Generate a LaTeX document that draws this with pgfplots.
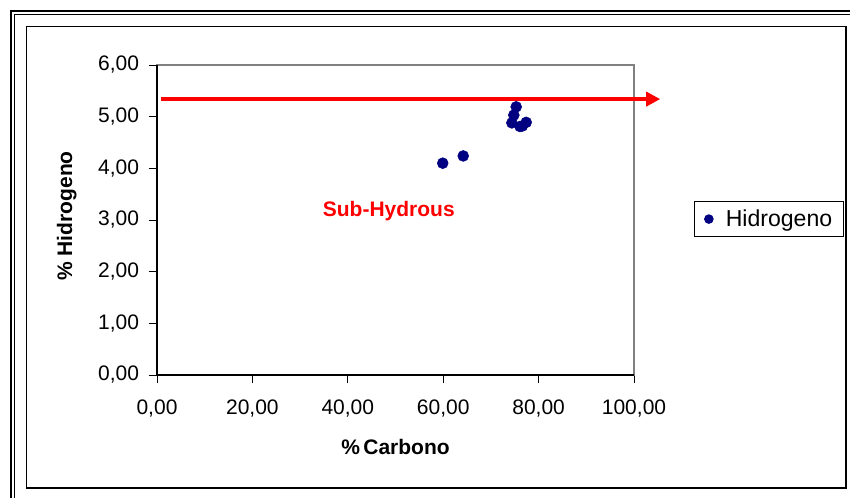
\documentclass[border=0pt]{standalone}
\usepackage{fontspec}
\setmainfont{Liberation Sans}
\usepackage{pgfplots}
\pgfplotsset{compat=1.18}
\usetikzlibrary{arrows.meta}
\definecolor{navy}{RGB}{0,0,128}
\definecolor{areagray}{RGB}{128,128,128}

\newcommand{\chartfont}{\fontsize{15.75}{18}\selectfont}

\begin{document}
\begin{tikzpicture}
\useasboundingbox (0,0) rectangle (637.5pt,-372.75pt);
% chart frames (double outer rule, single inner rule)
\begin{scope}
\clip (0,0) rectangle (637.5pt,-372.75pt);
\begin{scope}[x=0.75pt,y=-0.75pt]
\draw[line width=1.6pt] (11,520) -- (11,11) -- (880,11);
\draw[line width=0.8pt] (14.6,520) -- (14.6,14.6) -- (880,14.6);
\draw[line width=1pt] (26.6,26.6) rectangle (846,488);
\end{scope}
\end{scope}

\begin{axis}[
  scale only axis,
  width=357.75pt, height=232.5pt,
  at={(117.75pt,-281.25pt)}, anchor=south west,
  xmin=0, xmax=100, ymin=0, ymax=6,
  xtick={0,20,...,100}, ytick={0,1,...,6},
  axis line style={draw=areagray, line width=0.8pt},
  tick style={black, line width=0.75pt},
  tick align=outside, major tick length=6pt,
  xtick pos=left, ytick pos=left,
  ticklabel style={font=\chartfont},
  xticklabel style={yshift=-9pt},
  yticklabel style={xshift=-4pt},
  /pgf/number format/.cd, fixed, fixed zerofill, precision=2, use comma, assume math mode=true,
  /pgfplots/.cd,
  clip=false,
  xlabel={\bfseries\%\,Carbono},
  xlabel style={font=\chartfont, at={(axis description cs:0.5,-0.232)}, anchor=center},
  ylabel={\bfseries\% Hidrogeno},
  ylabel style={font=\chartfont, at={(axis description cs:-0.189,0.513)}, anchor=center, rotate=0},
  legend style={at={(axis description cs:1.126,0.503)}, anchor=west, draw=black,
    line width=0.75pt, font=\fontsize{17.3}{20}\selectfont, inner xsep=7.5pt, inner ysep=4pt,
    nodes={inner xsep=1pt},
    /tikz/every odd column/.append style={column sep=8.5pt}},
  legend cell align=left,
  legend image post style={mark size=3.2pt},
]
\addplot[only marks, mark=*, mark size=4.1pt, mark options={fill=navy, draw=navy}]
  coordinates {
    (59.9,4.10) (64.2,4.24)
    (75.3,5.19) (74.8,5.03) (74.4,4.88)
    (76.1,4.81) (77.4,4.89) (76.6,4.82)
  };
\addlegendentry{Hidrogeno}
\addplot[red, line width=3pt, forget plot,
  -{Triangle[length=10.5pt, width=10.5pt]}]
  coordinates {(0.8,5.34) (105.5,5.34)};
\node[font=\chartfont\bfseries, text=red] at (axis cs:48.6,3.17) {Sub-Hydrous};
\draw[black, line width=0.8pt] (rel axis cs:0,1) -- (rel axis cs:0,0) -- (rel axis cs:1,0);
\end{axis}
\end{tikzpicture}
\end{document}
